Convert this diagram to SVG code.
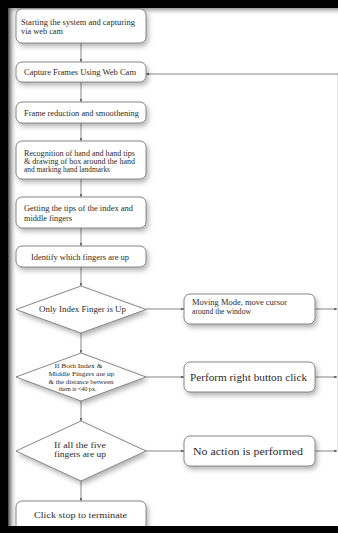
<svg xmlns="http://www.w3.org/2000/svg" width="338" height="533" viewBox="0 0 338 533">
<defs>
<filter id="sh" x="-20%" y="-20%" width="150%" height="170%">
<feDropShadow dx="2" dy="3" stdDeviation="2.5" flood-color="#000" flood-opacity="0.3"/>
</filter>
<linearGradient id="gl" x1="0" y1="0" x2="1" y2="0">
<stop offset="0" stop-color="#444"/>
<stop offset="1" stop-color="#fff" stop-opacity="0"/>
</linearGradient>
<linearGradient id="gt" x1="0" y1="0" x2="0" y2="1">
<stop offset="0" stop-color="#999"/>
<stop offset="1" stop-color="#fff" stop-opacity="0"/>
</linearGradient>
<marker id="ar" viewBox="0 0 6 6" refX="6" refY="3" markerWidth="4" markerHeight="4" orient="auto">
<path d="M0,0.5 L6,3 L0,5.5 z" fill="#444"/>
</marker>
<style>
.bx{fill:#fff;stroke:#6a6a6a;stroke-width:0.8}
.t{font-family:"Liberation Serif","Times New Roman",serif;fill:#2a2a2a;font-size:7.5px}
.tc{text-anchor:middle}
.ln{stroke:#555;stroke-width:0.7;fill:none}
</style>
</defs>
<rect width="338" height="533" fill="#fff"/>
<rect x="8" y="8" width="330" height="8" fill="url(#gt)"/>
<rect x="8" y="8" width="9" height="518" fill="url(#gl)"/>
<rect x="0" y="0" width="338" height="8" fill="#000"/>
<rect x="0" y="0" width="8" height="533" fill="#000"/>

<g id="connectors">
<line class="ln" x1="81" y1="43" x2="81" y2="62" marker-end="url(#ar)"/>
<line class="ln" x1="81" y1="82" x2="81" y2="102" marker-end="url(#ar)"/>
<line class="ln" x1="81" y1="123" x2="81" y2="141" marker-end="url(#ar)"/>
<line class="ln" x1="81" y1="179" x2="81" y2="197" marker-end="url(#ar)"/>
<line class="ln" x1="81" y1="228" x2="81" y2="246" marker-end="url(#ar)"/>
<line class="ln" x1="81" y1="267" x2="81" y2="286" marker-end="url(#ar)"/>
<line class="ln" x1="81" y1="333" x2="81" y2="353" marker-end="url(#ar)"/>
<line class="ln" x1="81" y1="401" x2="81" y2="421" marker-end="url(#ar)"/>
<line class="ln" x1="81" y1="481" x2="81" y2="501" marker-end="url(#ar)"/>
<line class="ln" x1="146" y1="309" x2="184" y2="309" marker-end="url(#ar)"/>
<line class="ln" x1="146" y1="377" x2="184" y2="377" marker-end="url(#ar)"/>
<line class="ln" x1="146" y1="451" x2="184" y2="451" marker-end="url(#ar)"/>
<line class="ln" x1="315" y1="309" x2="337" y2="309" marker-end="url(#ar)"/>
<line class="ln" x1="315" y1="377" x2="337" y2="377" marker-end="url(#ar)"/>
<line class="ln" x1="315" y1="451" x2="337" y2="451" marker-end="url(#ar)"/>
<line class="ln" x1="337.5" y1="451" x2="337.5" y2="74" style="stroke:#d8d8d8"/>
<line class="ln" x1="338" y1="74" x2="146" y2="74" marker-end="url(#ar)"/>
</g>

<g id="n1">
<rect class="bx" x="16" y="9" width="130" height="34" rx="6" filter="url(#sh)"/>
<text class="t" x="21" y="24.5" textLength="114" lengthAdjust="spacingAndGlyphs">Starting the system and capturing</text>
<text class="t" x="21" y="33.5" textLength="42" lengthAdjust="spacingAndGlyphs">via web cam</text>
</g>
<g id="n2">
<rect class="bx" x="16" y="62" width="130" height="20" rx="6" filter="url(#sh)"/>
<text class="t" x="24" y="75" textLength="112" lengthAdjust="spacingAndGlyphs">Capture Frames Using Web Cam</text>
</g>
<g id="n3">
<rect class="bx" x="16" y="102" width="130" height="21" rx="6" filter="url(#sh)"/>
<text class="t" x="24" y="115.5" textLength="115" lengthAdjust="spacingAndGlyphs">Frame reduction and smoothening</text>
</g>
<g id="n4">
<rect class="bx" x="16" y="141" width="130" height="38" rx="6" filter="url(#sh)"/>
<text class="t" x="24" y="155.5" textLength="111" lengthAdjust="spacingAndGlyphs">Recognition of hand and hand tips</text>
<text class="t" x="24" y="163.5" textLength="111" lengthAdjust="spacingAndGlyphs">&amp; drawing of box around the hand</text>
<text class="t" x="24" y="171.5" textLength="86" lengthAdjust="spacingAndGlyphs">and marking hand landmarks</text>
</g>
<g id="n5">
<rect class="bx" x="16" y="197" width="130" height="31" rx="6" filter="url(#sh)"/>
<text class="t" x="24" y="211" textLength="109" lengthAdjust="spacingAndGlyphs">Getting the tips of the index and</text>
<text class="t" x="24" y="220.5" textLength="48" lengthAdjust="spacingAndGlyphs">middle fingers</text>
</g>
<g id="n6">
<rect class="bx" x="16" y="246" width="130" height="21" rx="6" filter="url(#sh)"/>
<text class="t" x="31" y="259.5" textLength="98" lengthAdjust="spacingAndGlyphs">Identify which fingers are up</text>
</g>
<g id="d1">
<polygon class="bx" points="81,286 146,309.5 81,333 16,309.5" filter="url(#sh)"/>
<text class="t" x="39" y="312" textLength="87" lengthAdjust="spacingAndGlyphs">Only Index Finger is Up</text>
</g>
<g id="m1">
<rect class="bx" x="184" y="294" width="131" height="30" rx="6" filter="url(#sh)"/>
<text class="t" x="192" y="305" textLength="95" lengthAdjust="spacingAndGlyphs">Moving Mode, move cursor</text>
<text class="t" x="192" y="313.5" textLength="59" lengthAdjust="spacingAndGlyphs">around the window</text>
</g>
<g id="d2">
<polygon class="bx" points="81,353 146,377 81,401 16,377" filter="url(#sh)"/>
<text class="t tc" x="78.5" y="367.5" textLength="48" lengthAdjust="spacingAndGlyphs" style="font-size:6.5px">If Both Index &amp;</text>
<text class="t tc" x="81.5" y="376" textLength="66" lengthAdjust="spacingAndGlyphs" style="font-size:6.5px">Middle Fingers are up</text>
<text class="t tc" x="81" y="383.5" textLength="65" lengthAdjust="spacingAndGlyphs" style="font-size:6.5px">&amp; the distance between</text>
<text class="t tc" x="77.5" y="390.5" textLength="38" lengthAdjust="spacingAndGlyphs" style="font-size:6.5px">them is &lt;40 px.</text>
</g>
<g id="m2">
<rect class="bx" x="184" y="362" width="131" height="30" rx="6" filter="url(#sh)"/>
<text class="t" x="190" y="380.5" textLength="117" lengthAdjust="spacingAndGlyphs" style="font-size:10.5px">Perform right button click</text>
</g>
<g id="d3">
<polygon class="bx" points="81,421 146,451 81,481 16,451" filter="url(#sh)"/>
<text class="t tc" x="80" y="447.5" textLength="52" lengthAdjust="spacingAndGlyphs">If all the five</text>
<text class="t tc" x="80" y="456.5" textLength="52" lengthAdjust="spacingAndGlyphs">fingers are up</text>
</g>
<g id="m3">
<rect class="bx" x="184" y="436" width="131" height="30" rx="6" filter="url(#sh)"/>
<text class="t" x="193" y="454.5" textLength="110" lengthAdjust="spacingAndGlyphs" style="font-size:10.5px">No action is performed</text>
</g>
<g id="n7">
<rect class="bx" x="16" y="501" width="130" height="30" rx="6" filter="url(#sh)"/>
<text class="t" x="34" y="518" textLength="93" lengthAdjust="spacingAndGlyphs">Click stop to terminate</text>
</g>
<rect x="0" y="526" width="338" height="7" fill="#000"/>
</svg>
